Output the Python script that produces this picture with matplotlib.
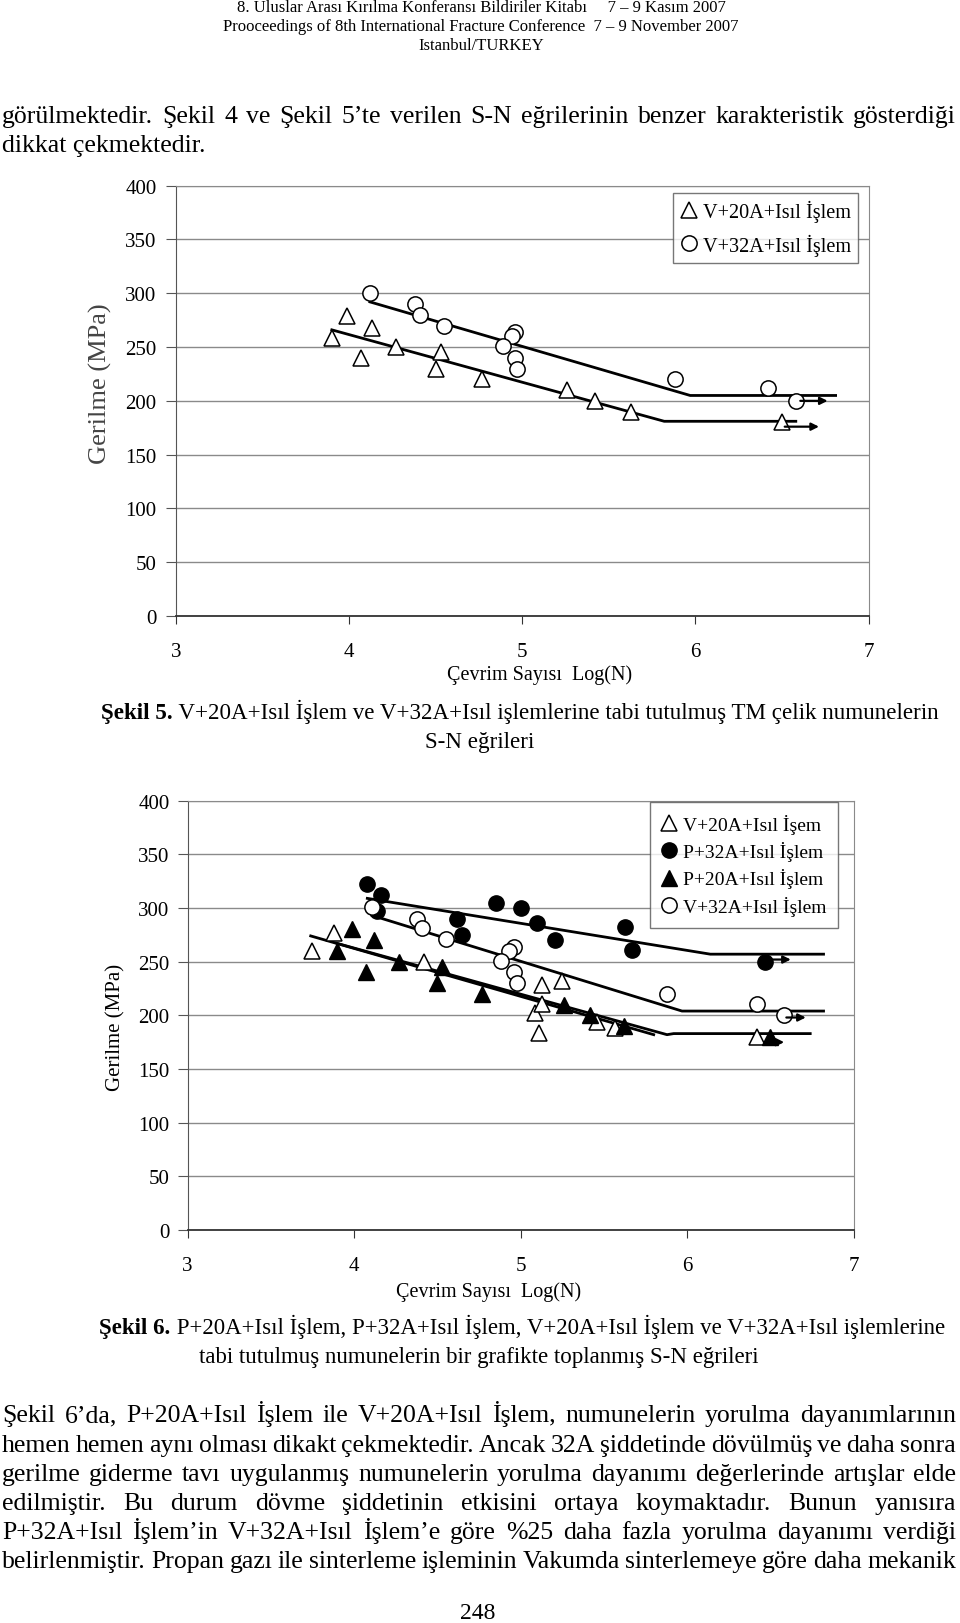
import numpy as np
import matplotlib
matplotlib.use("Agg")
from matplotlib import pyplot as plt
from matplotlib.lines import Line2D

plt.rcParams['font.family'] = ['Liberation Serif', 'DejaVu Serif']

W, H = 960, 1624

# ---- Şekil 5 verileri ----
f5_v20_x = [3.90, 3.99, 4.13, 4.07, 4.27, 4.53, 4.50, 4.77, 5.26, 5.42, 5.63, 6.50]
f5_v20_y = [258, 279, 268, 240, 250, 245, 230, 220, 210, 200, 190, 180]
f5_v32_x = [4.12, 4.38, 4.41, 4.55, 4.96, 4.94, 4.89, 4.96, 4.97, 5.88, 6.42, 6.58]
f5_v32_y = [300, 290, 280, 270, 264, 260, 251, 240, 230, 220, 212, 200]
f5_v20_line_x = [3.90, 5.82, 6.58]
f5_v20_line_y = [266, 181, 181]
f5_v32_line_x = [4.12, 5.97, 6.81]
f5_v32_line_y = [292, 205, 205]
f5_arrow_x0 = [6.59, 6.50]
f5_arrow_x1 = [6.78, 6.73]
f5_arrow_y = [200, 176]

# ---- Şekil 6 verileri ----
f6_v20_x = [3.75, 3.88, 4.42, 5.13, 5.25, 5.09, 5.11, 5.13, 5.46, 5.57, 6.42]
f6_v20_y = [260, 277, 250, 228, 232, 202, 184, 211, 194, 188, 180]
f6_p32_x = [4.08, 4.16, 4.14, 4.62, 4.65, 4.85, 5.00, 5.10, 5.21, 5.63, 5.67, 6.47]
f6_p32_y = [322, 312, 297, 290, 275, 305, 300, 286, 270, 282, 261, 250]
f6_p20_x = [3.99, 3.90, 4.07, 4.12, 4.27, 4.53, 4.50, 4.77, 5.26, 5.42, 5.62, 6.50]
f6_p20_y = [280, 260, 240, 270, 250, 245, 230, 220, 210, 200, 190, 180]
f6_v32_x = [4.11, 4.38, 4.41, 4.55, 4.96, 4.93, 4.88, 4.96, 4.98, 5.88, 6.42, 6.58]
f6_v32_y = [301, 290, 281, 271, 264, 260, 251, 240, 230, 220, 211, 200]
f6_p32_line_x = [4.08, 6.14, 6.82]
f6_p32_line_y = [309, 257, 257]
f6_v32_line_x = [4.11, 5.97, 6.82]
f6_v32_line_y = [293, 204, 204]
f6_v20_line_x = [3.74, 5.80]
f6_v20_line_y = [274, 182]
f6_p20_line_x = [3.90, 5.88, 5.92, 6.74]
f6_p20_line_y = [267, 182, 183, 183]
f6_arrow_x0 = [6.47, 6.58, 6.47]
f6_arrow_x1 = [6.64, 6.73, 6.60]
f6_arrow_y = [252, 198, 175]

xticks = [3, 4, 5, 6, 7]
yticks = [0, 50, 100, 150, 200, 250, 300, 350, 400]

lbl_v20 = "V+20A+Isıl İşlem"
lbl_v32 = "V+32A+Isıl İşlem"
lbl_v20_f6 = "V+20A+Isıl İşem"
lbl_p32 = "P+32A+Isıl İşlem"
lbl_p20 = "P+20A+Isıl İşlem"

header = ["8. Uluslar Arası Kırılma Konferansı Bildiriler Kitabı     7 – 9 Kasım 2007",
          "Prooceedings of 8th International Fracture Conference  7 – 9 November 2007",
          "Istanbul/TURKEY"]
top_par = ["görülmektedir. Şekil 4 ve Şekil 5’te verilen S-N eğrilerinin benzer karakteristik gösterdiği",
           "dikkat çekmektedir."]
cap5 = ["Şekil 5.", " V+20A+Isıl İşlem ve V+32A+Isıl işlemlerine tabi tutulmuş TM çelik numunelerin",
        "S-N eğrileri"]
cap6 = ["Şekil 6.", " P+20A+Isıl İşlem, P+32A+Isıl İşlem, V+20A+Isıl İşlem ve V+32A+Isıl işlemlerine",
        "tabi tutulmuş numunelerin bir grafikte toplanmış S-N eğrileri"]
bottom_par = ["Şekil 6’da, P+20A+Isıl İşlem ile V+20A+Isıl İşlem, numunelerin yorulma dayanımlarının",
              "hemen hemen aynı olması dikakt çekmektedir. Ancak 32A şiddetinde dövülmüş ve daha sonra",
              "gerilme giderme tavı uygulanmış numunelerin yorulma dayanımı değerlerinde artışlar elde",
              "edilmiştir. Bu durum dövme şiddetinin etkisini ortaya koymaktadır. Bunun yanısıra",
              "P+32A+Isıl İşlem’in V+32A+Isıl İşlem’e göre %25 daha fazla yorulma dayanımı verdiği",
              "belirlenmiştir. Propan gazı ile sinterleme işleminin Vakumda sinterlemeye göre daha mekanik"]

fig = plt.figure(figsize=(W / 100, H / 100), dpi=100)
fig.patch.set_facecolor('white')
rend = fig.canvas.get_renderer()


def fy(y):
    return 1 - y / H


def justify(y, line, size, x0=2, x1=956):
    # y = baseline (px from top)
    words = line.split()
    arts = [fig.text(0, fy(y), w, fontsize=size, va='baseline', ha='left') for w in words]
    ws = [a.get_window_extent(rend).width for a in arts]
    gap = max((x1 - x0 - sum(ws)) / (len(words) - 1), 2)
    x = x0
    for a, w in zip(arts, ws):
        a.set_x(x / W)
        x += w + gap


def caption(y, bold, rest, size, xc):
    b = fig.text(0, fy(y), bold, fontsize=size, fontweight='bold', va='baseline')
    r = fig.text(0, fy(y), rest, fontsize=size, va='baseline')
    wb = b.get_window_extent(rend).width
    wr = r.get_window_extent(rend).width
    x0 = xc - (wb + wr) / 2
    b.set_x(x0 / W)
    r.set_x((x0 + wb) / W)


def setup_ax(ax, ylpad):
    ax.set_xlim(3, 7)
    ax.set_ylim(0, 400)
    ax.set_xticks(xticks)
    ax.set_yticks(yticks)
    ax.yaxis.grid(True, color='#8a8a8a', lw=1.0)
    ax.set_axisbelow(True)
    for s in ['top', 'right']:
        ax.spines[s].set_color('#8a8a8a')
    ax.spines['left'].set_color('#555555')
    ax.spines['bottom'].set_color('#333333')
    ax.spines['bottom'].set_linewidth(1.3)
    ax.tick_params(axis='x', direction='out', length=6, pad=13, labelsize=15, color='#333333')
    ax.tick_params(axis='y', direction='out', length=7, pad=ylpad, labelsize=15, color='#555555')


open_kw = dict(ls='none', mfc='white', mec='black', mew=1.1, ms=11)
fill_kw = dict(ls='none', mfc='black', mec='black', ms=11)

# ---------- Şekil 5 ----------
ax1 = fig.add_axes([176 / W, fy(617), 692.5 / W, 430.3 / H])
setup_ax(ax1, 7)
ax1.plot(f5_v20_line_x, f5_v20_line_y, color='black', lw=2.0)
ax1.plot(f5_v32_line_x, f5_v32_line_y, color='black', lw=2.0)
ax1.plot(f5_v20_x, f5_v20_y, marker='^', **open_kw)
ax1.plot(f5_v32_x, f5_v32_y, marker='o', **open_kw)
for x0, x1, y in zip(f5_arrow_x0, f5_arrow_x1, f5_arrow_y):
    ax1.annotate('', xy=(x1, y), xytext=(x0, y),
                 arrowprops=dict(arrowstyle='-|>', color='black', lw=1.6, mutation_scale=11))
h1 = [Line2D([], [], marker='^', **open_kw), Line2D([], [], marker='o', **open_kw)]
leg1 = fig.legend(h1, [lbl_v20, lbl_v32], loc='upper right', bbox_to_anchor=(858 / W, fy(194)),
                  fontsize=14.6, frameon=True, fancybox=False, edgecolor='#555555',
                  handlelength=0.8, handletextpad=0.3, labelspacing=0.55, borderpad=0.35,
                  borderaxespad=0)
leg1.get_frame().set_linewidth(1.0)
fig.text(100 / W, fy(384), "Gerilme (MPa)", rotation=90, fontsize=19, ha='center', va='center',
         color='#444444')
fig.text(540 / W, fy(675), "Çevrim Sayısı  Log(N)", fontsize=14.5, ha='center', va='center')

# ---------- Şekil 6 ----------
ax2 = fig.add_axes([187.5 / W, fy(1231), 666 / W, 429.3 / H])
setup_ax(ax2, 6)
for lx, ly in [(f6_p32_line_x, f6_p32_line_y), (f6_v32_line_x, f6_v32_line_y),
               (f6_v20_line_x, f6_v20_line_y), (f6_p20_line_x, f6_p20_line_y)]:
    ax2.plot(lx, ly, color='black', lw=2.0)
ax2.plot(f6_v20_x, f6_v20_y, marker='^', **open_kw)
ax2.plot(f6_p32_x, f6_p32_y, marker='o', **fill_kw)
ax2.plot(f6_p20_x, f6_p20_y, marker='^', **fill_kw)
ax2.plot(f6_v32_x, f6_v32_y, marker='o', **open_kw)
for x0, x1, y in zip(f6_arrow_x0, f6_arrow_x1, f6_arrow_y):
    ax2.annotate('', xy=(x1, y), xytext=(x0, y),
                 arrowprops=dict(arrowstyle='-|>', color='black', lw=1.6, mutation_scale=11))
h2 = [Line2D([], [], marker='^', **open_kw), Line2D([], [], marker='o', **fill_kw),
      Line2D([], [], marker='^', **fill_kw), Line2D([], [], marker='o', **open_kw)]
leg2 = fig.legend(h2, [lbl_v20_f6, lbl_p32, lbl_p20, lbl_v32], loc='upper right',
                  bbox_to_anchor=(838 / W, fy(803)), fontsize=14, frameon=True, fancybox=False,
                  edgecolor='#555555', handlelength=0.8, handletextpad=0.3, labelspacing=0.38,
                  borderpad=0.6, borderaxespad=0)
leg2.get_frame().set_linewidth(1.0)
fig.text(116 / W, fy(1027), "Gerilme (MPa)", rotation=90, fontsize=15, ha='center', va='center')
fig.text(489 / W, fy(1292), "Çevrim Sayısı  Log(N)", fontsize=14.5, ha='center', va='center')

# ---------- metin ----------
for y, t in zip([8, 27, 46], header):
    fig.text(481 / W, fy(y), t, fontsize=12, ha='center', va='center')
justify(123, top_par[0], 18.5)
fig.text(2 / W, fy(152), top_par[1], fontsize=18.5, va='baseline')
caption(719, cap5[0], cap5[1], 16.6, 520)
fig.text(480 / W, fy(748), cap5[2], fontsize=16.6, ha='center', va='baseline')
caption(1334.5, cap6[0], cap6[1], 16.5, 522)
fig.text(479 / W, fy(1363.5), cap6[2], fontsize=16.5, ha='center', va='baseline')
for y, t in zip([1422, 1452, 1481, 1510, 1539, 1568], bottom_par):
    justify(y, t, 18.5)
fig.text(478 / W, fy(1614), "248", fontsize=17, ha='center', va='center')

fig.savefig("out.png", dpi=100)
